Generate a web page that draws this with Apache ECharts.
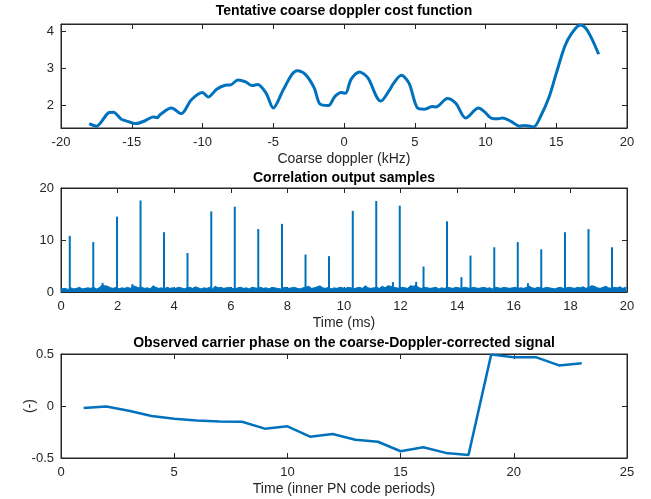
<!DOCTYPE html>
<html>
<head>
<meta charset="utf-8">
<script src="https://cdn.jsdelivr.net/npm/echarts@6/dist/echarts.min.js"></script>
<style>
  html, body { margin: 0; padding: 0; background: #fff; }
  #chart { width: 651px; height: 499px; }
</style>
</head>
<body>
<div id="chart"></div>
<script>
// top plot: cost vs coarse doppler
const dopplerKHz = [-18.0, -17.5, -16.6, -16.3, -15.75, -15.45, -14.7, -14.1, -13.5, -13.2, -13.0, -12.2, -11.5,
  -10.8, -10.0, -9.6, -9.0, -8.4, -8.0, -7.5, -6.95, -6.5, -6.1, -5.5, -5.0, -4.3, -3.7, -3.3, -2.7, -2.1,
  -1.7, -1.1, -0.65, -0.2, 0.1, 0.5, 1.1, 1.7, 2.3, 2.6, 3.2, 3.5, 4.05, 4.6, 5.2, 5.7, 6.25, 6.5, 7.3, 7.9,
  8.6, 9.5, 9.9, 10.4, 10.9, 11.2, 11.8, 12.4, 12.8, 13.4, 13.9, 14.5, 15.0, 15.6, 16.1, 16.7, 17.1, 17.5, 18.0];
const costValue = [1.50, 1.43, 1.80, 1.81, 1.62, 1.58, 1.50, 1.57, 1.68, 1.66, 1.74, 1.92, 1.77,
  2.14, 2.34, 2.22, 2.43, 2.54, 2.55, 2.68, 2.63, 2.53, 2.56, 2.32, 1.92, 2.41, 2.82, 2.93, 2.82, 2.46,
  2.03, 1.99, 2.23, 2.34, 2.32, 2.70, 2.90, 2.73, 2.23, 2.11, 2.40, 2.59, 2.81, 2.59, 1.92, 1.89, 1.96, 1.95, 2.18, 2.05,
  1.65, 1.92, 1.83, 1.65, 1.63, 1.65, 1.56, 1.43, 1.45, 1.41, 1.70, 2.23, 2.86, 3.59, 3.95, 4.17, 4.08, 3.81, 3.38];

// middle plot: correlation peaks and noise floor (0.1 ms steps)
const peakTimesMs = [0.31, 1.14, 1.98, 2.81, 3.64, 4.47, 5.31, 6.14, 6.97, 7.81, 8.64, 9.47,
  10.31, 11.14, 11.97, 12.81, 13.64, 14.47, 15.31, 16.14, 16.97, 17.81, 18.64, 19.47];
const peakHeights = [10.8, 9.6, 14.5, 17.6, 11.5, 7.5, 15.5, 16.4, 12.1, 13.1, 7.2, 6.9,
  15.6, 17.5, 16.6, 4.9, 13.6, 7.0, 8.6, 9.6, 8.2, 11.5, 12.1, 8.6];
const minorPeakTimesMs = [1.47, 2.52, 11.73, 12.55, 14.15, 16.5];
const minorPeakHeights = [1.75, 1.5, 1.9, 1.95, 2.85, 1.7];
const noiseFloor = [
  0.6, 0.7, 0.5, 0.8, 0.6, 0.7, 0.9, 0.6, 0.7, 0.8,
  0.7, 0.9, 0.6, 0.8, 1.3, 1.2, 1.1, 0.8, 0.7, 0.9,
  0.6, 0.8, 0.7, 0.9, 0.7, 1.2, 1.0, 0.8, 0.9, 0.7,
  0.8, 0.6, 1.2, 0.9, 0.7, 0.8, 0.6, 0.9, 0.7, 0.8,
  0.7, 0.9, 0.8, 0.6, 0.8, 0.9, 0.7, 1.0, 0.8, 0.6,
  0.8, 0.7, 0.9, 0.6, 1.1, 0.8, 0.9, 0.7, 0.8, 0.9,
  0.7, 0.6, 0.8, 0.9, 0.7, 0.8, 0.6, 0.9, 0.8, 0.7,
  0.9, 0.7, 0.8, 0.6, 0.9, 0.8, 0.7, 0.6, 0.8, 0.9,
  0.7, 0.8, 0.9, 0.7, 0.6, 0.8, 0.9, 1.1, 0.7, 0.8,
  1.0, 1.2, 0.8, 0.7, 0.9, 0.6, 0.8, 0.7, 0.9, 0.8,
  0.7, 0.9, 0.8, 0.6, 0.8, 0.9, 0.7, 1.2, 0.8, 0.7,
  0.8, 0.9, 0.7, 1.1, 0.8, 1.2, 1.1, 0.9, 0.8, 0.7,
  0.9, 0.8, 0.7, 1.2, 1.1, 1.3, 0.8, 0.7, 0.9, 0.8,
  0.7, 0.8, 0.9, 0.6, 0.8, 0.7, 0.9, 0.8, 0.7, 0.9,
  0.8, 0.7, 0.9, 0.8, 0.7, 0.9, 0.8, 0.7, 0.8, 0.9,
  0.7, 0.8, 0.6, 0.9, 0.8, 0.7, 0.9, 0.8, 0.7, 0.8,
  0.9, 0.7, 0.8, 0.7, 0.9, 1.1, 0.8, 0.7, 0.9, 0.8,
  0.7, 0.9, 0.8, 0.7, 0.6, 0.8, 0.9, 0.7, 0.8, 0.9,
  0.8, 0.7, 0.9, 0.8, 1.0, 0.7, 0.9, 1.2, 1.1, 0.8,
  0.7, 0.9, 1.1, 0.8, 0.7, 0.9, 0.8, 1.0, 0.7, 0.9];
const noiseStepMs = 0.1;

// bottom plot: carrier phase per PN code period
const pnPeriods = [1, 2, 3, 4, 5, 6, 7, 8, 9, 10, 11, 12, 13, 14, 15, 16, 17, 18, 19, 20, 21, 22, 23];
const carrierPhase = [-0.02, -0.005, -0.045, -0.097, -0.123, -0.14, -0.15, -0.152, -0.218, -0.195, -0.295, -0.27,
  -0.325, -0.344, -0.435, -0.396, -0.451, -0.47, 0.494, 0.468, 0.468, 0.39, 0.41];

const blue = '#0072BD';
const ink = '#262626';
const font = 'Liberation Sans';

const chart = echarts.init(document.getElementById('chart'), null, { renderer: 'canvas' });

const grids = [
  { left: 61, right: 24, top: 24, height: 104 },
  { left: 61, right: 24, top: 188, height: 104 },
  { left: 61, right: 24, top: 354, height: 104 }
].map(g => Object.assign(g, { show: true, borderColor: ink, borderWidth: 1, backgroundColor: '#fff' }));

function xAxes(gi, min, max, interval, name) {
  const base = {
    type: 'value', gridIndex: gi, min, max, interval,
    splitLine: { show: false },
    axisLine: { show: true, onZero: false, lineStyle: { color: ink, width: 1 } },
    axisTick: { show: true, inside: true, length: 5, lineStyle: { color: ink } }
  };
  return [
    Object.assign({}, base, {
      position: 'bottom', name, nameLocation: 'middle', nameGap: 24,
      nameTextStyle: { color: ink, fontFamily: font, fontSize: 14 },
      axisLabel: { color: ink, fontFamily: font, fontSize: 13, margin: 8 }
    }),
    Object.assign({}, base, { position: 'top', axisLabel: { show: false } })
  ];
}

function yAxes(gi, min, max, interval, extra) {
  const base = {
    type: 'value', gridIndex: gi, min, max, interval,
    splitLine: { show: false },
    axisLine: { show: true, onZero: false, lineStyle: { color: ink, width: 1 } },
    axisTick: { show: true, inside: true, length: 5, lineStyle: { color: ink } }
  };
  const left = Object.assign({}, base, {
    position: 'left',
    axisLabel: { color: ink, fontFamily: font, fontSize: 13, margin: 7 }
  }, extra || {});
  const right = Object.assign({}, base, { position: 'right', axisLabel: { show: false } });
  if (extra && extra.axisTick) right.axisTick = extra.axisTick;
  return [left, right];
}

const costTicks = [2, 3, 4];

// correlation data built from the arrays above
const noiseData = noiseFloor.map((v, i) => [i * noiseStepMs + 0.05, v]);
noiseData.unshift([0, 0.6]);
noiseData.push([20, 0.7]);
const spikeData = peakTimesMs.map((t, i) => [t, peakHeights[i]])
  .concat(minorPeakTimesMs.map((t, i) => [t, minorPeakHeights[i]]));

const option = {
  animation: false,
  backgroundColor: '#fff',
  textStyle: { fontFamily: font },
  title: [
    { text: 'Tentative coarse doppler cost function', top: 4 },
    { text: 'Correlation output samples', top: 171 },
    { text: 'Observed carrier phase on the coarse-Doppler-corrected signal', top: 336 }
  ].map(t => Object.assign(t, {
    left: 344, textAlign: 'center', padding: 0,
    textStyle: { color: '#000', fontFamily: font, fontSize: 14, fontWeight: 'bold' }
  })),
  grid: grids,
  xAxis: [].concat(
    xAxes(0, -20, 20, 5, 'Coarse doppler (kHz)'),
    xAxes(1, 0, 20, 2, 'Time (ms)'),
    xAxes(2, 0, 25, 5, 'Time (inner PN code periods)')
  ),
  yAxis: [].concat(
    yAxes(0, 1.38, 4.2, null, {
      axisLabel: { color: ink, fontFamily: font, fontSize: 13, margin: 7, customValues: costTicks },
      axisTick: { show: true, inside: true, length: 5, lineStyle: { color: ink }, customValues: costTicks }
    }),
    yAxes(1, 0, 20, 10),
    yAxes(2, -0.5, 0.5, 0.5, {
      name: '(-)', nameLocation: 'middle', nameGap: 24, nameMoveOverlap: false,
      nameTextStyle: { color: ink, fontFamily: font, fontSize: 14 }
    })
  ),
  series: [
    {
      type: 'line', xAxisIndex: 0, yAxisIndex: 0,
      data: dopplerKHz.map((x, i) => [x, costValue[i]]),
      smooth: 0.3, showSymbol: false,
      lineStyle: { color: blue, width: 3 }
    },
    {
      type: 'line', xAxisIndex: 2, yAxisIndex: 2,
      data: noiseData, showSymbol: false,
      lineStyle: { color: blue, width: 1 },
      areaStyle: { color: blue, opacity: 1, origin: 'start' }
    },
    {
      type: 'bar', xAxisIndex: 2, yAxisIndex: 2,
      data: spikeData, barWidth: 2,
      itemStyle: { color: blue }
    },
    {
      type: 'line', xAxisIndex: 4, yAxisIndex: 4,
      data: pnPeriods.map((x, i) => [x, carrierPhase[i]]),
      showSymbol: false,
      lineStyle: { color: blue, width: 2.5 }
    }
  ]
};

chart.setOption(option);
</script>
</body>
</html>
